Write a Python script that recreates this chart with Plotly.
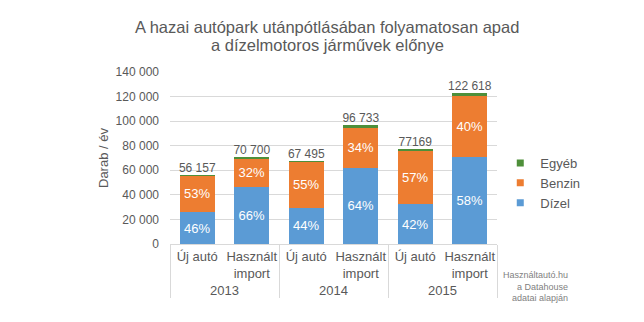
import plotly.graph_objects as go

# Data: vehicle registrations per year, split by fuel type
years = ["2013", "2013", "2014", "2014", "2015", "2015"]
kinds = ["Új autó", "Használt<br>import", "Új autó", "Használt<br>import", "Új autó", "Használt<br>import"]
totals = [56157, 70700, 67495, 96733, 77169, 122618]
total_labels = ["56 157", "70 700", "67 495", "96 733", "77169", "122 618"]
dizel_pct = [46, 66, 44, 64, 42, 58]
benzin_pct = [53, 32, 55, 34, 57, 40]

egyeb_pct = [100 - d - b for d, b in zip(dizel_pct, benzin_pct)]
dizel = [t * p / 100 for t, p in zip(totals, dizel_pct)]
benzin = [t * p / 100 for t, p in zip(totals, benzin_pct)]
egyeb = [t - d - b for t, d, b in zip(totals, dizel, benzin)]

BLUE = "#5B9BD5"
ORANGE = "#ED7D31"
GREEN = "#4E8F3A"
GREY = "#595959"
FONT = "Liberation Sans, Arial, sans-serif"

x = [years, kinds]

fig = go.Figure()
fig.add_trace(go.Bar(
    x=x, y=dizel, name="Dízel", marker=dict(color=BLUE, line=dict(width=0)),
    text=[f"{p}%" for p in dizel_pct], textposition="inside", insidetextanchor="middle",
    textfont=dict(color="white", size=13, family=FONT), showlegend=False,
))
fig.add_trace(go.Bar(
    x=x, y=benzin, name="Benzin", marker=dict(color=ORANGE, line=dict(width=0)),
    text=[f"{p}%" for p in benzin_pct], textposition="inside", insidetextanchor="middle",
    textfont=dict(color="white", size=13, family=FONT), showlegend=False,
))
fig.add_trace(go.Bar(
    x=x, y=egyeb, name="Egyéb", marker=dict(color=GREEN, line=dict(width=0)),
    textposition="none", showlegend=False,
))
# total labels above each stack
fig.add_trace(go.Scatter(
    x=x, y=totals, mode="text", text=total_labels, textposition="top center",
    textfont=dict(color=GREY, size=12, family=FONT), showlegend=False, hoverinfo="skip",
))
# legend entries with small square swatches
for name, col in [("Dízel", BLUE), ("Benzin", ORANGE), ("Egyéb", GREEN)]:
    fig.add_trace(go.Scatter(
        x=[None], y=[None], mode="markers", name=name,
        marker=dict(symbol="square", size=7, color=col),
    ))

fig.update_layout(
    width=644, height=322,
    margin=dict(l=170, r=147, t=72, b=78),
    paper_bgcolor="white", plot_bgcolor="white",
    barmode="stack", bargap=0.36,
    separators=", ",
    font=dict(family=FONT, color=GREY, size=12),
    legend=dict(
        x=1.01, xanchor="left", y=0.355, yanchor="middle",
        traceorder="reversed", font=dict(size=13, color=GREY),
        itemwidth=30, tracegroupgap=0, bgcolor="rgba(0,0,0,0)",
    ),
    showlegend=True,
)
# two-line chart title
for line, ypix in [("A hazai autópark utánpótlásában folyamatosan apad", 27),
                   ("a dízelmotoros járművek előnye", 45)]:
    fig.add_annotation(
        text=line, xref="paper", yref="paper",
        x=(327 - 170) / 327, y=(244 - ypix) / 172,
        xanchor="center", yanchor="middle", showarrow=False,
        font=dict(size=16.5, color=GREY, family=FONT),
    )
fig.update_yaxes(
    range=[0, 140000], dtick=20000, tickformat=",d",
    showgrid=True, gridcolor="#D9D9D9", gridwidth=1,
    zeroline=False, showline=False, ticks="", ticklabelstandoff=10,
    tickfont=dict(size=12, color=GREY),
    title=dict(text="Darab / év", font=dict(size=13, color=GREY), standoff=4),
)
# invisible outside ticks push both label rows down a little
fig.update_xaxes(
    type="multicategory", showline=True, linecolor="#D9D9D9", linewidth=1,
    showdividers=True, dividercolor="#D9D9D9", dividerwidth=1,
    tickfont=dict(size=13, color=GREY), tickangle=0, automargin=False,
    ticks="outside", ticklen=7, tickcolor="rgba(0,0,0,0)",
)
fig.add_annotation(
    text="Használtautó.hu<br>a Datahouse<br>adatai alapján",
    xref="paper", yref="paper", x=(570 - 170) / 327, y=(244 - 268) / 172,
    xanchor="right", yanchor="top", align="right", showarrow=False,
    font=dict(size=9, color="#7F7F7F", family=FONT),
)

fig.write_html("out.html")
